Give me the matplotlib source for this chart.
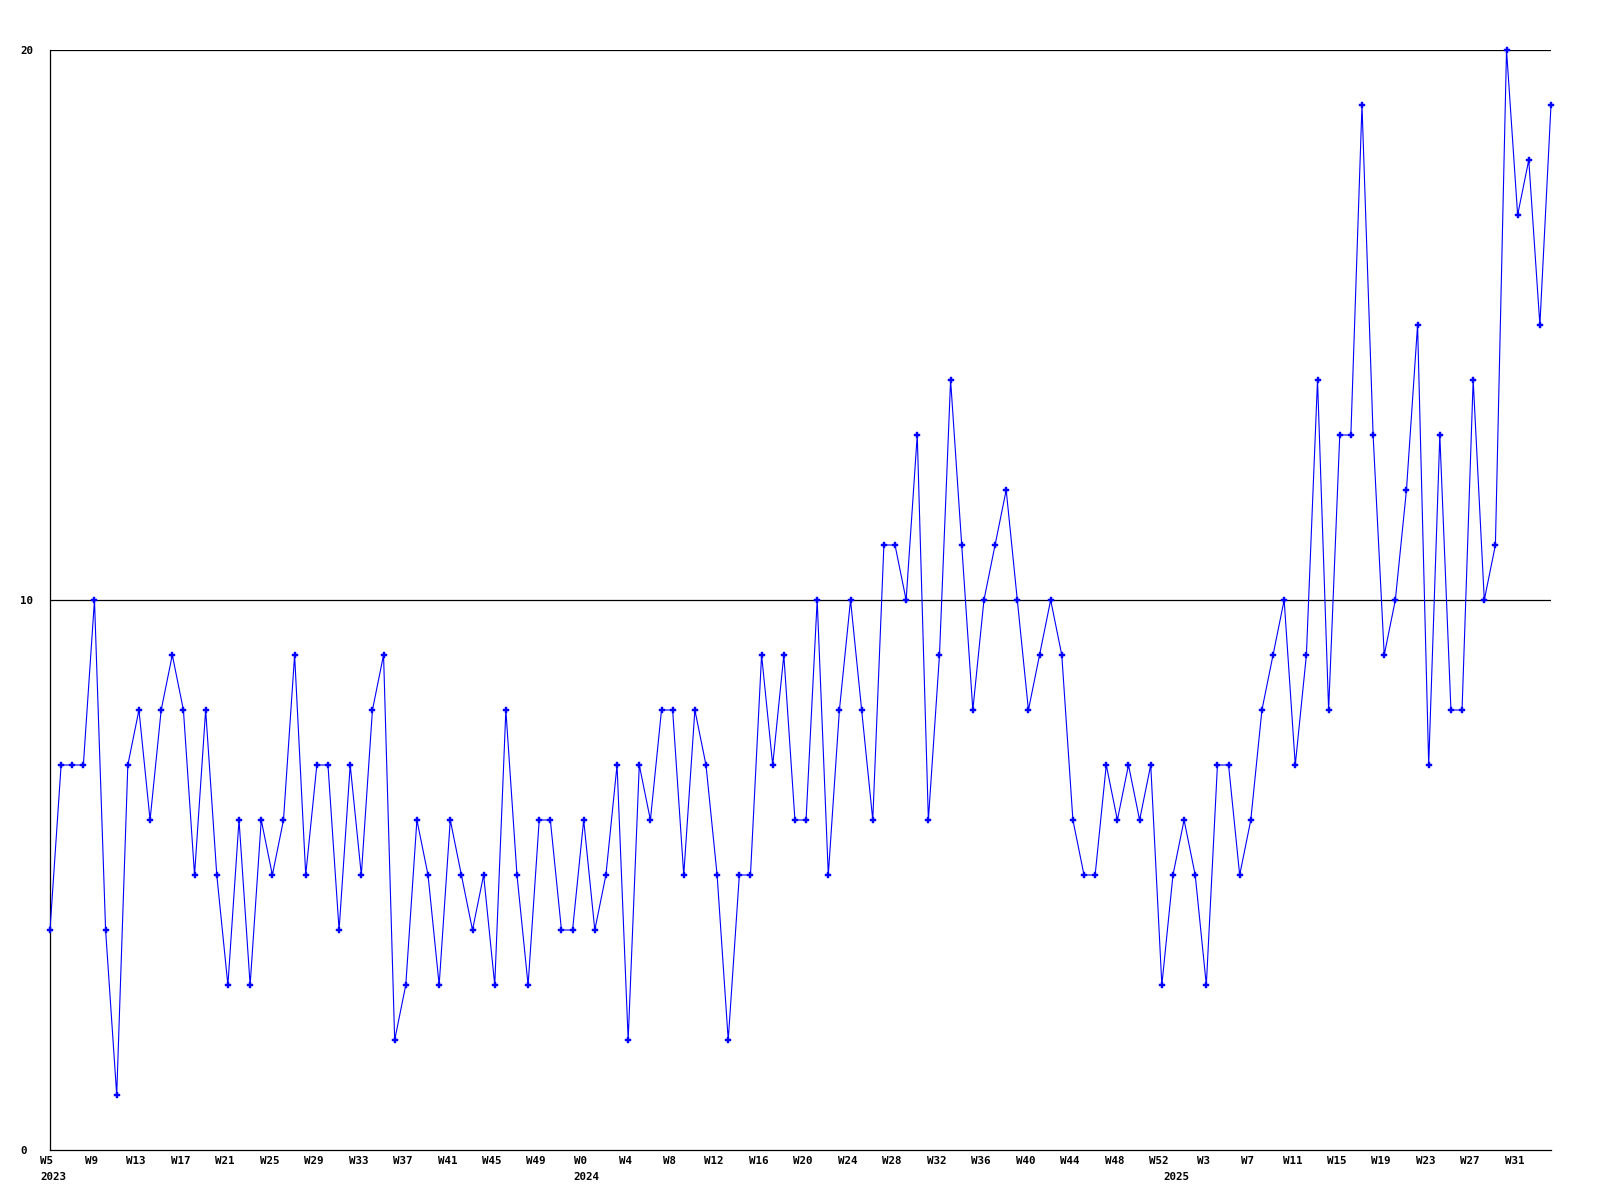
#!/bin/python
import matplotlib
matplotlib.use('Agg')
import matplotlib.pyplot as plt
import matplotlib.transforms as mtransforms
import numpy as np

# weekly counts, first point is W5 2023, last is W34 2025
values = [4, 7, 7, 7, 10, 4, 1, 7, 8, 6,
          8, 9, 8, 5, 8, 5, 3, 6, 3, 6,
          5, 6, 9, 5, 7, 7, 4, 7, 5, 8,
          9, 2, 3, 6, 5, 3, 6, 5, 4, 5,
          3, 8, 5, 3, 6, 6, 4, 4, 6, 4,
          5, 7, 2, 7, 6, 8, 8, 5, 8, 7,
          5, 2, 5, 5, 9, 7, 9, 6, 6, 10,
          5, 8, 10, 8, 6, 11, 11, 10, 13, 6,
          9, 14, 11, 8, 10, 11, 12, 10, 8, 9,
          10, 9, 6, 5, 5, 7, 6, 7, 6, 7,
          3, 5, 6, 5, 3, 7, 7, 5, 6, 8,
          9, 10, 7, 9, 14, 8, 13, 13, 19, 13,
          9, 10, 12, 15, 7, 13, 8, 8, 14, 10,
          11, 20, 17, 18, 15, 19]

week_labels = ['W5', 'W9', 'W13', 'W17', 'W21', 'W25', 'W29', 'W33', 'W37', 'W41', 'W45', 'W49',
               'W0', 'W4', 'W8', 'W12', 'W16', 'W20', 'W24', 'W28', 'W32', 'W36', 'W40', 'W44',
               'W48', 'W52',
               'W3', 'W7', 'W11', 'W15', 'W19', 'W23', 'W27', 'W31']
week_step = 4
year_labels = ['2023', '2024', '2025']
year_index = [0, 48, 101]   # week index where each year starts
y_ticks = [0, 10, 20]


def make_plot(ofile):
    '''
    Simple weekly line chart in the style of a gd/rrd plot.
    '''
    font = dict(family='DejaVu Sans Mono', weight='bold', size=7.8)
    fig = plt.figure(figsize=(16, 12), dpi=100)
    ax = fig.add_axes([50/1600, 1-1150/1200, 1501/1600, 1100/1200])
    x = np.arange(len(values))
    ax.plot(x, values, color='#0000ff', lw=0.8, marker='P', ms=4.0,
            mec='#0000ff', mfc='#0000ff', mew=0.3, zorder=3, clip_on=False)
    # horizontal lines at the labelled values
    for yv in y_ticks[1:]:
        ax.axhline(yv, color='black', lw=0.9, zorder=2)
    ax.set_xlim(0, len(values)-1)
    ax.set_ylim(0, 20)
    for s in ['top', 'right']:
        ax.spines[s].set_visible(False)
    for s in ['left', 'bottom']:
        ax.spines[s].set_linewidth(0.9)
    # y labels, left aligned at the figure edge
    ax.set_yticks(y_ticks)
    ax.set_yticklabels([str(v) for v in y_ticks], fontdict=font)
    ax.tick_params(axis='y', length=0, pad=21.6)
    for lab in ax.get_yticklabels():
        lab.set_horizontalalignment('left')
    # week labels
    ax.set_xticks(np.arange(len(week_labels))*week_step)
    ax.set_xticklabels(week_labels, fontdict=font)
    ax.tick_params(axis='x', length=0, pad=4.5)
    shift = mtransforms.ScaledTranslation(-3/100, 0, fig.dpi_scale_trans)
    for lab in ax.get_xticklabels():
        lab.set_transform(lab.get_transform() + shift)
    # year labels under the week labels
    trans = mtransforms.blended_transform_factory(ax.transData, ax.transAxes)
    yshift = mtransforms.ScaledTranslation(3/100, 0, fig.dpi_scale_trans)
    for yl, yi in zip(year_labels, year_index):
        ax.text(yi, -27/1100, yl, transform=trans + yshift, ha='center',
                va='center', **font)
    fig.savefig(ofile, dpi=100)
    plt.close(fig)


if __name__ == '__main__':
    make_plot('out.png')
